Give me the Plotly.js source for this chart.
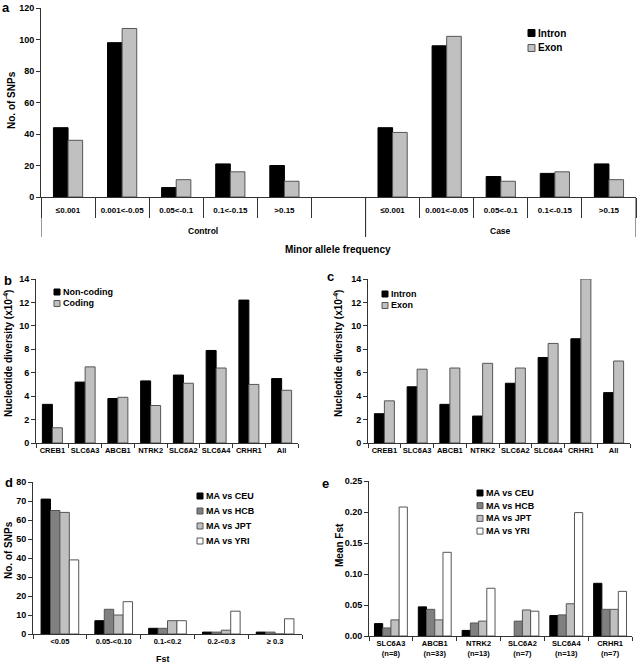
<!DOCTYPE html>
<html>
<head>
<meta charset="utf-8">
<script src="https://cdn.plot.ly/plotly-3.0.1.min.js"></script>
<style>body{margin:0;background:#fff}#chart{width:640px;height:663px}</style>
</head>
<body>
<div id="chart"></div>
<script>
// a - minor allele frequency, control vs case
const mafGroups = ['Control','Control','Control','Control','Control','Control','Case','Case','Case','Case','Case'];
const mafBins = ['≤0.001','0.001<-0.05','0.05<-0.1','0.1<-0.15','>0.15',' ','≤0.001','0.001<-0.05','0.05<-0.1','0.1<-0.15','>0.15'];
const mafIntron = [44, 98, 6, 21, 20, null, 44, 96, 13, 15, 21];
const mafExon = [36, 107, 11, 16, 10, null, 41, 102, 10, 16, 11];

// b and c - nucleotide diversity per gene
const genes = ['CREB1','SLC6A3','ABCB1','NTRK2','SLC6A2','SLC6A4','CRHR1','All'];
const nonCoding = [3.3, 5.2, 3.8, 5.3, 5.8, 7.9, 12.2, 5.5];
const coding = [1.3, 6.5, 3.9, 3.2, 5.1, 6.4, 5.0, 4.5];
const intron = [2.5, 4.8, 3.3, 2.3, 5.1, 7.3, 8.9, 4.3];
const exon = [3.6, 6.3, 6.4, 6.8, 6.4, 8.5, 14.0, 7.0];

// d - Fst distribution
const fstBins = ['<0.05','0.05-<0.10','0.1-<0.2','0.2-<0.3','≥ 0.3'];
const compNames = ['MA vs CEU','MA vs HCB','MA vs JPT','MA vs YRI'];
const dCEU = [71, 7, 3, 1, 1];
const dHCB = [65, 13, 3, 1, 1];
const dJPT = [64, 10, 7, 2, 0];
const dYRI = [39, 17, 7, 12, 8];

// e - mean Fst per gene
const fstGenes = ['SLC6A3<br>(n=8)','ABCB1<br>(n=33)','NTRK2<br>(n=13)','SLC6A2<br>(n=7)','SLC6A4<br>(n=13)','CRHR1<br>(n=7)'];
const eCEU = [0.020, 0.047, 0.009, null, 0.033, 0.085];
const eHCB = [0.013, 0.043, 0.021, 0.024, 0.034, 0.043];
const eJPT = [0.026, 0.026, 0.024, 0.042, 0.052, 0.043];
const eYRI = [0.208, 0.135, 0.077, 0.040, 0.199, 0.072];

const W = 640, H = 663;
const px = x => x / W;
const py = y => 1 - y / H;
const FONT = 'Liberation Sans, Arial, sans-serif';
const BLACK = '#000000', DARK = '#808080', GREY = '#c0c0c0', WHITE = '#ffffff', EDGE = '#555555';
const LINE = '#333333';

let traces = [];
let shapes = [];
let annotations = [];

function groupBars(x, series, names, colors, xa, ya, groupW) {
  const barW = groupW / series.length;
  series.forEach((vals, i) => {
    traces.push({
      type: 'bar', x: x, y: vals, name: names[i],
      xaxis: xa, yaxis: ya,
      width: barW, offset: -groupW / 2 + i * barW,
      marker: {color: colors[i], line: {color: colors[i] === BLACK ? BLACK : EDGE, width: 1}},
      showlegend: false, hoverinfo: 'x+y+name'
    });
  });
}

function legendBox(names, colors, x0, y0, step, size, fontSize) {
  names.forEach((name, i) => {
    const cy = y0 + i * step;
    shapes.push({
      type: 'rect', xref: 'paper', yref: 'paper',
      x0: px(x0), x1: px(x0 + size), y0: py(cy + size / 2), y1: py(cy - size / 2),
      fillcolor: colors[i], line: {color: colors[i] === BLACK ? BLACK : EDGE, width: 1}
    });
    annotations.push({
      xref: 'paper', yref: 'paper', x: px(x0 + size + 1), y: py(cy),
      xanchor: 'left', yanchor: 'middle', showarrow: false, text: name,
      font: {family: FONT, size: fontSize, color: '#000', weight: 'bold'}
    });
  });
}

function label(text, x, y, size, angle) {
  annotations.push({
    xref: 'paper', yref: 'paper', x: px(x), y: py(y),
    xanchor: 'center', yanchor: 'middle', showarrow: false, text: text,
    textangle: angle || 0,
    font: {family: FONT, size: size, color: '#000', weight: 'bold'}
  });
}

// panel a: one category per slot, the bin label shown as tick text
const mafKeys = mafBins.map((b, i) => mafGroups[i] + '|' + b);

// group dividers and group names under the bin labels
const groupNames = [...new Set(mafGroups)];
groupNames.forEach(g => {
  const first = mafGroups.indexOf(g);
  const last = mafGroups.lastIndexOf(g);
  [first - 0.5, last + 0.5].forEach(xb => {
    shapes.push({type: 'line', xref: 'x', yref: 'paper', x0: xb, x1: xb, y0: py(197), y1: py(237),
      line: {color: LINE, width: 1}});
  });
  annotations.push({
    xref: 'x', yref: 'paper', x: (first + last) / 2, y: py(231),
    xanchor: 'center', yanchor: 'middle', showarrow: false, text: g,
    font: {family: FONT, size: 8.5, color: '#000', weight: 'bold'}
  });
});

groupBars(mafKeys, [mafIntron, mafExon], ['Intron','Exon'], [BLACK, GREY], 'x', 'y', 0.54);
groupBars(genes, [nonCoding, coding], ['Non-coding','Coding'], [BLACK, GREY], 'x2', 'y2', 0.61);
groupBars(genes, [intron, exon], ['Intron','Exon'], [BLACK, GREY], 'x3', 'y3', 0.61);
groupBars(fstBins, [dCEU, dHCB, dJPT, dYRI], compNames, [BLACK, DARK, GREY, WHITE], 'x4', 'y4', 0.70);
groupBars(fstGenes, [eCEU, eHCB, eJPT, eYRI], compNames, [BLACK, DARK, GREY, WHITE], 'x5', 'y5', 0.75);

legendBox(['Intron','Exon'], [BLACK, GREY], 528, 33, 15, 7, 10);
legendBox(['Non-coding','Coding'], [BLACK, GREY], 54, 292, 11.5, 6, 9);
legendBox(['Intron','Exon'], [BLACK, GREY], 382, 294, 11.5, 6, 9);
legendBox(compNames, [BLACK, DARK, GREY, WHITE], 197, 496, 15, 6, 9);
legendBox(compNames, [BLACK, DARK, GREY, WHITE], 477, 493, 12.7, 6, 9);

label('a', 6, 8, 13);
label('b', 8, 280, 13);
label('c', 330, 276, 13);
label('d', 9, 482, 13);
label('e', 325, 483, 13);

label('No. of SNPs', 11, 100, 10, -90);
label('Minor allele frequency', 338, 249, 10);
label('Nucleotide diversity (x10<sup>-4</sup>)', 8, 354, 10, -90);
label('Nucleotide diversity (x10<sup>-4</sup>)', 338, 354, 10, -90);
label('No. of SNPs', 8, 550, 10, -90);
label('Mean Fst', 339, 545, 10, -90);
label('Fst', 163, 659, 9);

const tickFont = {family: FONT, size: 7.5, color: '#000', weight: 'bold'};

function xAxis(domain, n, anchor) {
  return {
    domain: domain, anchor: anchor, type: 'category', range: [-0.5, n - 0.5],
    showline: true, linecolor: LINE, linewidth: 1,
    ticks: 'outside', tickson: 'boundaries', ticklen: 4, tickcolor: LINE,
    tickangle: 0,
    showgrid: false, zeroline: false, tickfont: tickFont, fixedrange: true
  };
}

function yAxis(domain, range, dtick, anchor, fmt) {
  return {
    domain: domain, anchor: anchor, range: range, dtick: dtick, tickformat: fmt || '',
    showline: true, linecolor: LINE, linewidth: 1,
    ticks: 'outside', ticklen: 4, tickcolor: LINE,
    showgrid: false, zeroline: false,
    tickfont: {family: FONT, size: 9, color: '#000', weight: 'bold'}, fixedrange: true
  };
}

const layout = {
  width: W, height: H,
  margin: {l: 0, r: 0, t: 0, b: 0},
  paper_bgcolor: '#fff', plot_bgcolor: '#fff',
  showlegend: false,
  barmode: 'overlay',
  font: {family: FONT, color: '#000'},
  xaxis: {
    domain: [px(41), px(636)], anchor: 'y', type: 'category', range: [-0.5, mafKeys.length - 0.5],
    tickmode: 'array', tickvals: mafKeys, ticktext: mafBins,
    showline: true, linecolor: LINE, linewidth: 1,
    ticks: 'outside', tickson: 'boundaries', ticklen: 20, tickcolor: LINE,
    ticklabelstandoff: 5, tickangle: 0,
    showgrid: false, zeroline: false,
    tickfont: {family: FONT, size: 8, color: '#000', weight: 'bold'}, fixedrange: true
  },
  yaxis: yAxis([py(197), py(8)], [0, 120], 20, 'x'),
  xaxis2: xAxis([px(36), px(298)], genes.length, 'y2'),
  yaxis2: yAxis([py(443), py(279)], [0, 14], 2, 'x2'),
  xaxis3: xAxis([px(368), px(630)], genes.length, 'y3'),
  yaxis3: yAxis([py(443), py(279)], [0, 14], 2, 'x3'),
  xaxis4: xAxis([px(33), px(302)], fstBins.length, 'y4'),
  yaxis4: yAxis([py(634), py(482)], [0, 80], 10, 'x4'),
  xaxis5: xAxis([px(369), px(632)], fstGenes.length, 'y5'),
  yaxis5: yAxis([py(636), py(481)], [0, 0.25], 0.05, 'x5', '.2f'),
  shapes: shapes,
  annotations: annotations
};

Plotly.newPlot('chart', traces, layout, {displayModeBar: false, staticPlot: true});
</script>
</body>
</html>
